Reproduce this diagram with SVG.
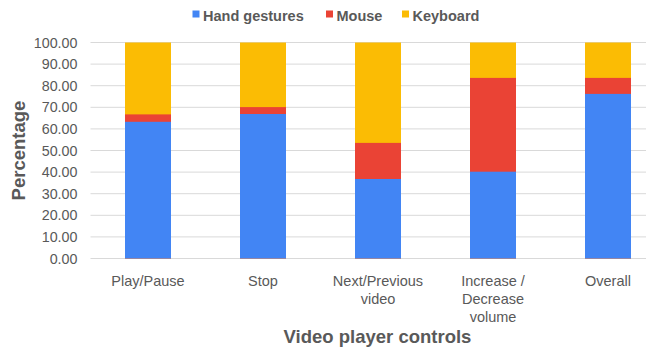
<svg xmlns="http://www.w3.org/2000/svg" width="646" height="349" viewBox="0 0 646 349">
<style>
text{font-family:"Liberation Sans",Arial,sans-serif;fill:#595959}
.tick{font-size:14.3px;text-anchor:end}
.cat{font-size:14.5px;text-anchor:middle}
.leg{font-size:14.5px;font-weight:bold}
.title{font-size:18.5px;font-weight:bold;text-anchor:middle}
.grid line{stroke:#d9d9d9;stroke-width:1}
.hg{fill:#4285F4}.ms{fill:#EA4335}.kb{fill:#FBBC04}
</style>
<rect width="646" height="349" fill="#fff"/>
<g id="legend">
<rect class="hg" x="192.5" y="10.5" width="7" height="7"/><text class="leg" x="203" y="20.5">Hand gestures</text>
<rect class="ms" x="326" y="10.5" width="7" height="7"/><text class="leg" x="336.5" y="20.5">Mouse</text>
<rect class="kb" x="402" y="10.5" width="7" height="7"/><text class="leg" x="412.5" y="20.5">Keyboard</text>
</g>
<g class="grid">
<line x1="90.5" y1="42.5" x2="646" y2="42.5"/>
<line x1="90.5" y1="64.1" x2="646" y2="64.1"/>
<line x1="90.5" y1="85.7" x2="646" y2="85.7"/>
<line x1="90.5" y1="107.3" x2="646" y2="107.3"/>
<line x1="90.5" y1="128.9" x2="646" y2="128.9"/>
<line x1="90.5" y1="150.5" x2="646" y2="150.5"/>
<line x1="90.5" y1="172.1" x2="646" y2="172.1"/>
<line x1="90.5" y1="193.7" x2="646" y2="193.7"/>
<line x1="90.5" y1="215.3" x2="646" y2="215.3"/>
<line x1="90.5" y1="236.9" x2="646" y2="236.9"/>
<line x1="90.5" y1="258.5" x2="646" y2="258.5"/>
</g>
<g id="yticks">
<text class="tick" x="77.5" y="47.5">100.00</text>
<text class="tick" x="77.5" y="69.1">90.00</text>
<text class="tick" x="77.5" y="90.7">80.00</text>
<text class="tick" x="77.5" y="112.3">70.00</text>
<text class="tick" x="77.5" y="133.9">60.00</text>
<text class="tick" x="77.5" y="155.5">50.00</text>
<text class="tick" x="77.5" y="177.1">40.00</text>
<text class="tick" x="77.5" y="198.7">30.00</text>
<text class="tick" x="77.5" y="220.3">20.00</text>
<text class="tick" x="77.5" y="241.9">10.00</text>
<text class="tick" x="77.5" y="263.5">0.00</text>
</g>
<g id="bar-playpause">
<rect class="kb" x="125" y="42.5" width="46" height="216"/>
<rect class="ms" x="125" y="114.4" width="46" height="144.1"/>
<rect class="hg" x="125" y="121.8" width="46" height="136.7"/>
</g>
<g id="bar-stop">
<rect class="kb" x="240" y="42.5" width="46" height="216"/>
<rect class="ms" x="240" y="107.1" width="46" height="151.4"/>
<rect class="hg" x="240" y="114" width="46" height="144.5"/>
</g>
<g id="bar-next">
<rect class="kb" x="355" y="42.5" width="46" height="216"/>
<rect class="ms" x="355" y="142.9" width="46" height="115.6"/>
<rect class="hg" x="355" y="179" width="46" height="79.5"/>
</g>
<g id="bar-volume">
<rect class="kb" x="470" y="42.5" width="46" height="216"/>
<rect class="ms" x="470" y="77.9" width="46" height="180.6"/>
<rect class="hg" x="470" y="171.7" width="46" height="86.8"/>
</g>
<g id="bar-overall">
<rect class="kb" x="585" y="42.5" width="46" height="216"/>
<rect class="ms" x="585" y="77.9" width="46" height="180.6"/>
<rect class="hg" x="585" y="93.9" width="46" height="164.6"/>
</g>
<g id="xlabels">
<text class="cat" x="148" y="286">Play/Pause</text>
<text class="cat" x="263" y="286">Stop</text>
<text class="cat" x="378" y="286">Next/Previous</text>
<text class="cat" x="378" y="304">video</text>
<text class="cat" x="493" y="286">Increase /</text>
<text class="cat" x="493" y="304">Decrease</text>
<text class="cat" x="493" y="322">volume</text>
<text class="cat" x="608" y="286">Overall</text>
</g>
<text class="title" x="377.5" y="342.5">Video player controls</text>
<text class="title" transform="translate(24.5,150.5) rotate(-90)">Percentage</text>
</svg>
